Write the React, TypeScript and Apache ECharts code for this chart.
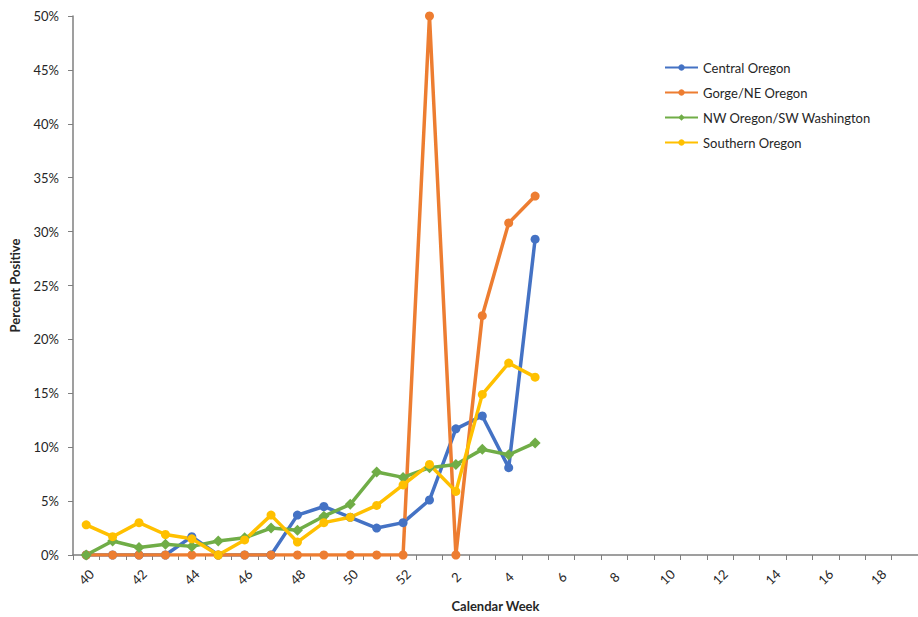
import React, { useEffect, useRef } from "react";
import * as echarts from "echarts";

const weeks: string[] = [
  "40", "41", "42", "43", "44", "45", "46", "47", "48", "49", "50", "51", "52",
  "1", "2", "3", "4", "5", "6", "7", "8", "9", "10", "11", "12", "13", "14", "15", "16", "17", "18", "19",
];

const centralOregon: number[] = [
  0, 0, 0, 0, 1.7, 0, 0, 0, 3.7, 4.5, 3.5, 2.5, 3.0, 5.1, 11.7, 12.9, 8.1, 29.3,
];
const gorgeNE: number[] = [
  0, 0, 0, 0, 0, 0, 0, 0, 0, 0, 0, 0, 0, 50.0, 0, 22.2, 30.8, 33.3,
];
const nwOregonSW: number[] = [
  0, 1.3, 0.7, 1.0, 0.8, 1.3, 1.6, 2.5, 2.3, 3.6, 4.7, 7.7, 7.2, 8.1, 8.4, 9.8, 9.3, 10.4,
];
const southernOregon: number[] = [
  2.8, 1.7, 3.0, 1.9, 1.5, 0, 1.4, 3.7, 1.2, 3.0, 3.5, 4.6, 6.5, 8.4, 5.9, 14.9, 17.8, 16.5,
];

const seriesNames = ["Central Oregon", "Gorge/NE Oregon", "NW Oregon/SW Washington", "Southern Oregon"];
const seriesColors = ["#4472C4", "#ED7D31", "#70AD47", "#FFC000"];
const seriesSymbols = ["circle", "circle", "diamond", "circle"];
const seriesData = [centralOregon, gorgeNE, nwOregonSW, southernOregon];

const FONT = "Lato, 'Open Sans', sans-serif";
const TEXT = "#262626";

export default function App() {
  const ref = useRef<HTMLDivElement>(null);
  useEffect(() => {
    if (!ref.current) return;
    const chart = echarts.init(ref.current, undefined, { renderer: "svg" });
    chart.setOption({
      animation: false,
      backgroundColor: "#ffffff",
      textStyle: { fontFamily: FONT },
      grid: { left: 72, right: -7, top: 16, bottom: 52, containLabel: false },
      legend: {
        orient: "vertical",
        left: 659,
        top: 56,
        itemWidth: 33,
        itemHeight: 8,
        itemGap: 12,
        textStyle: { fontFamily: FONT, fontSize: 13, color: TEXT },
        data: seriesNames,
      },
      xAxis: {
        type: "category",
        data: weeks,
        boundaryGap: true,
        name: "Calendar Week",
        nameLocation: "middle",
        nameGap: 44,
        nameTextStyle: { fontFamily: FONT, fontSize: 13, fontWeight: "bold", color: TEXT },
        axisLine: { show: true, lineStyle: { color: "#7f7f7f", width: 1.5 } },
        axisTick: { show: true, interval: 0, length: 5, lineStyle: { color: "#7f7f7f" } },
        axisLabel: {
          interval: 1,
          rotate: 45,
          align: "center",
          verticalAlign: "middle",
          fontFamily: FONT,
          fontSize: 13,
          color: TEXT,
          margin: 22,
        },
        splitLine: { show: false },
      },
      yAxis: {
        type: "value",
        min: 0,
        max: 50,
        interval: 5,
        name: "Percent Positive",
        nameLocation: "middle",
        nameGap: 52,
        nameTextStyle: { fontFamily: FONT, fontSize: 13, fontWeight: "bold", color: TEXT },
        axisLine: { show: true, lineStyle: { color: "#7f7f7f", width: 1.5 } },
        axisTick: { show: true, length: 5, lineStyle: { color: "#7f7f7f" } },
        axisLabel: {
          formatter: "{value}%",
          fontFamily: FONT,
          fontSize: 13,
          color: TEXT,
          margin: 14,
        },
        splitLine: { show: false },
      },
      series: seriesNames.map((name, i) => ({
        name,
        type: "line",
        data: seriesData[i],
        symbol: seriesSymbols[i],
        symbolSize: seriesSymbols[i] === "diamond" ? 11 : 9,
        color: seriesColors[i],
        lineStyle: { width: 3.5, color: seriesColors[i] },
        itemStyle: { color: seriesColors[i] },
      })),
    });
    return () => chart.dispose();
  }, []);
  return (
    <div
      ref={ref}
      style={{ position: "fixed", left: 0, top: 0, width: 918, height: 617, overflow: "hidden" }}
    />
  );
}
